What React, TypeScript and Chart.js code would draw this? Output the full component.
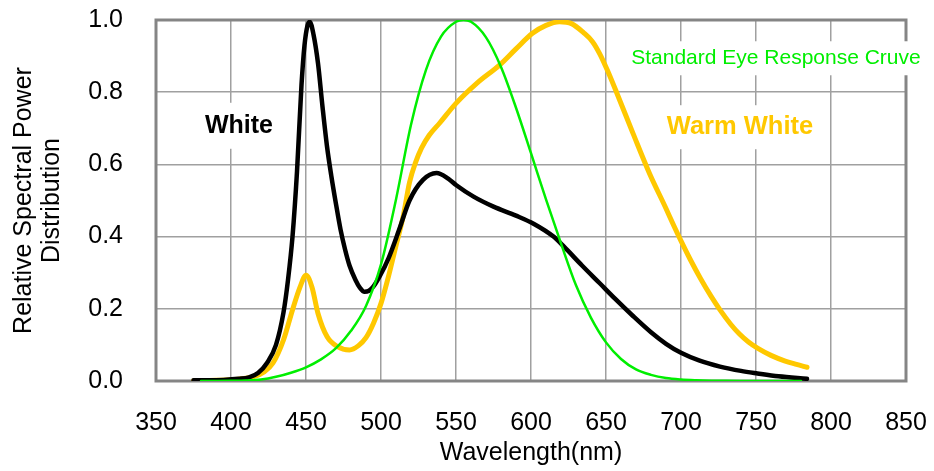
import { useEffect, useRef } from 'react';
import { Chart, registerables } from 'chart.js';

Chart.register(...registerables);

const FONT = '"Liberation Sans", Arial, sans-serif';

// X axis: wavelength (nm); Y axis: relative power
const xMin = 350;
const xMax = 850;
const xStep = 50;
const yMin = 0;
const yMax = 1.0;
const yStep = 0.2;

// White LED spectrum
const whiteWavelengths = [375, 385, 395, 405, 412, 418, 424, 430, 435, 438, 441, 444, 447, 449, 451, 452.5, 455, 458, 461, 464, 467, 470, 473, 476, 479, 483, 486, 489, 492, 495, 499, 505, 512, 519, 528, 537, 545, 550, 562, 575, 590, 602, 615, 622, 634, 646, 656, 668, 680, 690, 700, 712, 726, 740, 751, 765, 784];
const whiteValues = [0.002, 0.002, 0.003, 0.006, 0.01, 0.022, 0.05, 0.1, 0.19, 0.28, 0.4, 0.58, 0.82, 0.93, 0.985, 0.995, 0.96, 0.88, 0.76, 0.65, 0.565, 0.49, 0.42, 0.365, 0.32, 0.28, 0.258, 0.247, 0.25, 0.262, 0.289, 0.34, 0.418, 0.5, 0.557, 0.576, 0.56, 0.543, 0.51, 0.483, 0.458, 0.435, 0.4, 0.372, 0.32, 0.27, 0.228, 0.18, 0.135, 0.103, 0.078, 0.057, 0.04, 0.028, 0.021, 0.013, 0.006];

// Warm White LED spectrum
const warmWavelengths = [375, 390, 405, 415, 422, 428, 435, 441, 446, 450, 454, 458, 464, 471, 479, 485, 490, 495, 500, 505, 510, 515, 519, 523, 527, 532, 539, 550, 564, 579, 590, 601, 610, 619, 627, 635, 641, 646, 651, 657, 668, 679, 690, 695, 700, 706, 713, 720, 726, 733, 739, 745, 751, 760, 769, 777, 784];
const warmValues = [0.001, 0.002, 0.005, 0.012, 0.025, 0.05, 0.114, 0.197, 0.26, 0.293, 0.26, 0.187, 0.123, 0.095, 0.086, 0.098, 0.12, 0.16, 0.215, 0.29, 0.375, 0.46, 0.55, 0.605, 0.645, 0.68, 0.714, 0.769, 0.825, 0.875, 0.92, 0.963, 0.985, 0.995, 0.99, 0.965, 0.94, 0.905, 0.86, 0.8, 0.686, 0.575, 0.478, 0.432, 0.388, 0.338, 0.284, 0.235, 0.197, 0.158, 0.13, 0.108, 0.091, 0.071, 0.056, 0.046, 0.038];

// Standard eye response curve
const eyeWavelengths = [380, 390, 400, 410, 420, 430, 440, 450, 460, 470, 480, 490, 500, 510, 520, 530, 540, 550, 555, 560, 570, 580, 590, 600, 610, 620, 630, 640, 650, 660, 670, 680, 690, 700, 710, 720, 730, 740, 750, 760, 770, 780];
const eyeValues = [0.00004, 0.00012, 0.0004, 0.0012, 0.004, 0.0116, 0.023, 0.038, 0.06, 0.091, 0.139, 0.208, 0.323, 0.503, 0.71, 0.862, 0.954, 0.995, 1.0, 0.995, 0.952, 0.87, 0.757, 0.631, 0.503, 0.381, 0.265, 0.175, 0.107, 0.061, 0.032, 0.017, 0.0082, 0.0041, 0.0021, 0.001, 0.0005, 0.00025, 0.00012, 0.00006, 0.00003, 0.000015];

const labelTexts = ['White', 'Warm White', 'Standard Eye Response Cruve'];
const labelX = [405.3, 739.3, 763.3];
const labelY = [0.707, 0.703, 0.894];

const COLORS = { white: '#000000', warm: '#FFC800', eye: '#00EE00' };

const toPoints = (xs: number[], ys: number[]) => xs.map((x, i) => ({ x, y: ys[i] }));

const labelStyles = [
  { color: COLORS.white, font: `bold 25px ${FONT}`, half: 23, padX: 8 },
  { color: COLORS.warm, font: `bold 25.5px ${FONT}`, half: 22, padX: 8 },
  { color: COLORS.eye, font: `21px ${FONT}`, half: 17, padX: 7 },
];

const framePlugin = {
  id: 'frame',
  beforeDatasetsDraw(chart: any) {
    const { ctx, chartArea } = chart;
    ctx.save();
    ctx.strokeStyle = '#858585';
    ctx.lineWidth = 3;
    ctx.strokeRect(chartArea.left, chartArea.top, chartArea.right - chartArea.left, chartArea.bottom - chartArea.top);
    ctx.restore();
  },
};

const labelPlugin = {
  id: 'curveLabels',
  afterDatasetsDraw(chart: any) {
    const { ctx, scales } = chart;
    ctx.save();
    labelTexts.forEach((t, i) => {
      const st = labelStyles[i];
      const px = scales.x.getPixelForValue(labelX[i]);
      const py = scales.y.getPixelForValue(labelY[i]);
      ctx.font = st.font;
      const w = ctx.measureText(t).width;
      ctx.fillStyle = '#ffffff';
      ctx.fillRect(px - w / 2 - st.padX, py - st.half, w + 2 * st.padX, st.half * 2);
      ctx.fillStyle = st.color;
      ctx.textAlign = 'center';
      ctx.textBaseline = 'middle';
      ctx.fillText(t, px, py);
    });
    ctx.restore();
  },
};

export default function App() {
  const ref = useRef<HTMLCanvasElement | null>(null);

  useEffect(() => {
    document.body.style.margin = '0';
    if (!ref.current) return;
    Chart.defaults.font.family = FONT;
    const lineStyle = {
      pointRadius: 0,
      cubicInterpolationMode: 'monotone',
      borderCapStyle: 'round',
      borderJoinStyle: 'round',
    };
    const chart = new Chart(ref.current, {
      type: 'line',
      data: {
        datasets: [
          {
            label: 'Standard Eye Response Cruve',
            data: toPoints(eyeWavelengths, eyeValues),
            borderColor: COLORS.eye,
            borderWidth: 2.5,
            ...lineStyle,
          },
          {
            label: 'White',
            data: toPoints(whiteWavelengths, whiteValues),
            borderColor: COLORS.white,
            borderWidth: 4.5,
            ...lineStyle,
          },
          {
            label: 'Warm White',
            data: toPoints(warmWavelengths, warmValues),
            borderColor: COLORS.warm,
            borderWidth: 5,
            ...lineStyle,
          },
        ],
      },
      options: {
        responsive: false,
        animation: false,
        layout: { padding: { top: 20, right: 28, bottom: 0, left: 0 } },
        plugins: { legend: { display: false }, tooltip: { enabled: false } },
        scales: {
          x: {
            type: 'linear',
            min: xMin,
            max: xMax,
            afterFit: (s: any) => { s.height = 90; },
            ticks: {
              stepSize: xStep,
              padding: 0,
              color: '#000',
              font: { size: 25, family: FONT },
              maxRotation: 0,
              callback: (v: any) => String(v),
            },
            grid: { color: '#a0a0a0', lineWidth: 1.5, drawTicks: true, tickLength: 27, tickColor: 'rgba(0,0,0,0)' },
            border: { display: false },
            title: {
              display: true,
              text: 'Wavelength(nm)',
              color: '#000',
              font: { size: 25, family: FONT, lineHeight: 1.12 },
              padding: { top: 0, bottom: 4 },
            },
          },
          y: {
            type: 'linear',
            min: yMin,
            max: yMax,
            afterFit: (s: any) => { s.width = 156; },
            ticks: {
              stepSize: yStep,
              padding: 0,
              color: '#000',
              font: { size: 25, family: FONT },
              callback: (v: any) => Number(v).toFixed(1),
            },
            grid: { color: '#a0a0a0', lineWidth: 1.5, drawTicks: true, tickLength: 33, tickColor: 'rgba(0,0,0,0)' },
            border: { display: false },
            title: {
              display: true,
              text: ['Relative Spectral Power', 'Distribution'],
              color: '#000',
              font: { size: 25, family: FONT, lineHeight: 1.12 },
              padding: { top: 10, bottom: 0 },
            },
          },
        },
      },
      plugins: [framePlugin, labelPlugin],
    } as any);
    return () => chart.destroy();
  }, []);

  return <canvas ref={ref} width={934} height={471} style={{ display: 'block' }} />;
}
